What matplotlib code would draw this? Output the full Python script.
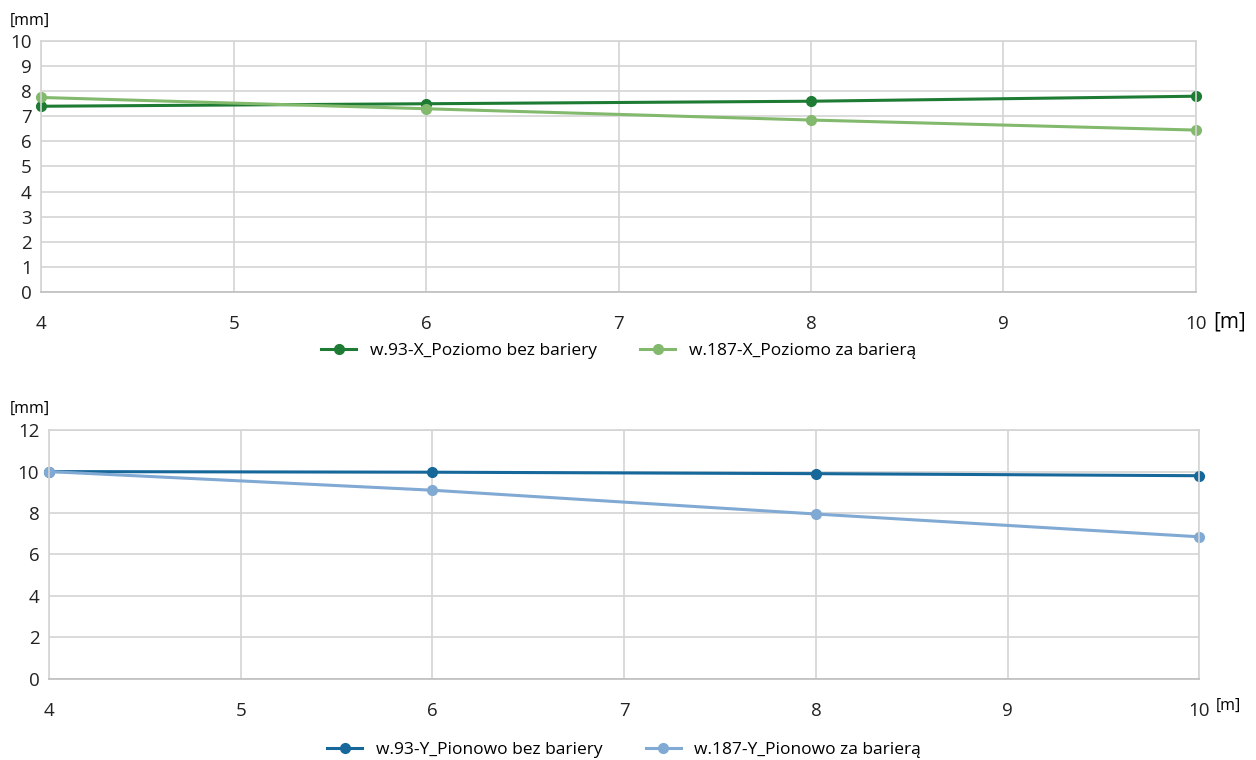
import numpy as np
import matplotlib.pyplot as plt

plt.rcParams['font.family'] = ['Open Sans', 'DejaVu Sans']

# distances [m]
dist = [4, 6, 8, 10]

# top chart: horizontal displacement [mm]
x_bez = [7.4, 7.5, 7.6, 7.8]
x_za = [7.75, 7.3, 6.85, 6.45]

# bottom chart: vertical displacement [mm]
y_bez = [10.0, 9.97, 9.9, 9.8]
y_za = [10.0, 9.1, 7.95, 6.85]

lab_top = ['w.93-X_Poziomo bez bariery', 'w.187-X_Poziomo za barierą']
lab_bot = ['w.93-Y_Pionowo bez bariery', 'w.187-Y_Pionowo za barierą']

fig = plt.figure(figsize=(12.56, 7.60), dpi=100)
ax1 = fig.add_axes([0.033, 0.616, 0.919, 0.330])
ax2 = fig.add_axes([0.039, 0.107, 0.916, 0.327])

grid_c = '#d4d4d4'

def style(ax, ymax, ystep):
  ax.set_xlim(4, 10)
  ax.set_ylim(0, ymax)
  ax.set_xticks(np.arange(4, 11, 1))
  ax.set_yticks(np.arange(0, ymax + 0.1, ystep))
  ax.grid(True, color=grid_c, linewidth=1.2)
  ax.set_axisbelow(True)
  for s in ax.spines.values():
    s.set_color(grid_c)
    s.set_linewidth(1.2)
  ax.spines['bottom'].set_color('#bfbfbf')
  ax.tick_params(length=0, labelsize=13.5, colors='#222222')
  ax.tick_params(axis='x', pad=17)
  ax.tick_params(axis='y', pad=7)

style(ax1, 10, 1)
style(ax2, 12, 2)

ax1.plot(dist, x_bez, color='#1e7b34', lw=2.2, marker='o', ms=7, label=lab_top[0], clip_on=False)
ax1.plot(dist, x_za, color='#82b96c', lw=2.2, marker='o', ms=7, label=lab_top[1], clip_on=False)
ax2.plot(dist, y_bez, color='#16679a', lw=2.2, marker='o', ms=7, label=lab_bot[0], clip_on=False)
ax2.plot(dist, y_za, color='#80a9d3', lw=2.2, marker='o', ms=7, label=lab_bot[1], clip_on=False)

ax1.legend(loc='upper center', bbox_to_anchor=(0.5, -0.14), ncol=2, frameon=False,
           fontsize=12.5, handlelength=2.0, columnspacing=2.5)
ax2.legend(loc='upper center', bbox_to_anchor=(0.5, -0.19), ncol=2, frameon=False,
           fontsize=12.5, handlelength=2.0, columnspacing=2.5)

fig.text(0.008, 0.972, '[mm]', fontsize=11.5, ha='left', va='center')
fig.text(0.008, 0.432 + 0.03, '[mm]', fontsize=11.5, ha='left', va='center')
fig.text(0.966, 0.612 - 0.036, '[m]', fontsize=15, ha='left', va='center')
fig.text(0.968, 0.107 - 0.036, '[m]', fontsize=11.5, ha='left', va='center')

fig.savefig('out.png', dpi=100, facecolor='white')
